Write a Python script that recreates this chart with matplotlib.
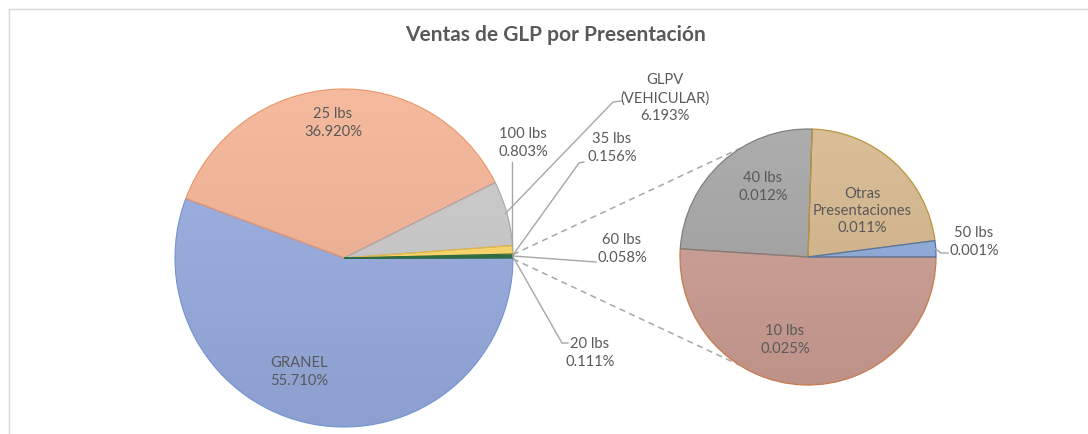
import numpy as np
import matplotlib
matplotlib.use("Agg")
import matplotlib.pyplot as plt
from matplotlib.patches import Rectangle
from matplotlib.colors import to_rgb

# ---------------- data ----------------
main_labels = ["GRANEL", "25 lbs", "GLPV\n(VEHICULAR)", "100 lbs", "35 lbs", "60 lbs", "20 lbs"]
main_values = [55.710, 36.920, 6.193, 0.803, 0.156, 0.058, 0.111]
sub_labels = ["10 lbs", "40 lbs", "Otras\nPresentaciones", "50 lbs"]
sub_values = [0.025, 0.012, 0.011, 0.001]
title = "Ventas de GLP por Presentación"

# ---------------- style ----------------
main_colors = ["#97abdf", "#f4b394", "#c9c9c9", "#ffd966", "#3f7a5c", "#2f6b45", "#3b5f8c", "#7a8fc0"]
main_edges = ["#7393d3", "#e9956c", "#a8a8a8", "#e8b83a", "#2f6b45", "#2f6b45", "#2f6b45", "#2f6b45"]
sub_colors = ["#cc9d93", "#a4a4a4", "#d5b78d", "#8eaadc"]
sub_edges = ["#c87a4e", "#7f7f7f", "#b8953c", "#4f76b0"]
TXT = "#595959"
LINE = "#a6a6a6"
FONT = ["Lato", "DejaVu Sans"]

W, H = 1088, 435
fig = plt.figure(figsize=(W / 100, H / 100), dpi=100)
ax = fig.add_axes([0, 0, 1, 1])


def Y(py):
    return H - py


c1 = (344, Y(259)); r1 = 169
c2 = (808, Y(258)); r2 = 128

other_total = sum(sub_values)
vals1 = main_values + [other_total]
w1, _ = ax.pie(vals1, colors=main_colors, startangle=0, counterclock=False,
               center=c1, radius=r1, normalize=True,
               wedgeprops=dict(linewidth=0.8))
w2, _ = ax.pie(sub_values, colors=sub_colors, startangle=0, counterclock=False,
               center=c2, radius=r2, normalize=True,
               wedgeprops=dict(linewidth=0.9))


def shade(wedges, colors, edges, c, r):
    # vertical gradient (lighter top, darker bottom) clipped to each wedge
    t = np.linspace(0, 1, 256)[:, None]
    for wdg, col, ec in zip(wedges, colors, edges):
        rgb = np.array(to_rgb(col))
        top = rgb + (1 - rgb) * 0.10
        bot = rgb * 0.93
        img = bot[None, :] * (1 - t) + top[None, :] * t
        img = img[:, None, :]
        im = ax.imshow(img, extent=(c[0] - r, c[0] + r, c[1] - r, c[1] + r),
                       origin="lower", aspect="auto", zorder=1.5, interpolation="bilinear")
        im.set_clip_path(wdg)
        wdg.set_facecolor("none")
        wdg.set_edgecolor(ec)
        wdg.set_zorder(2)


shade(w1, main_colors, main_edges, c1, r1)
shade(w2, sub_colors, sub_edges, c2, r2)

ax.set_xlim(0, W)
ax.set_ylim(0, H)
ax.set_aspect("equal")
ax.axis("off")


def edge_pt(c, r, ang, k=1.0):
    a = np.deg2rad(ang)
    return c[0] + k * r * np.cos(a), c[1] + k * r * np.sin(a)


# connector dashed lines from "other" wedge to second pie
ow = w1[-1]
p_top = edge_pt(c1, r1, ow.theta2 + 1.0)
p_bot = edge_pt(c1, r1, ow.theta1 - 0.3)
q_top = edge_pt(c2, r2, 121.5)
q_bot = edge_pt(c2, r2, -122.5)
for p, q in [(p_top, q_top), (p_bot, q_bot)]:
    ax.plot([p[0], q[0]], [p[1], q[1]], color=LINE, lw=1.1, ls=(0, (4, 3)), zorder=0)

# ---------------- labels ----------------
fs = 10.6
ls = 1.3


def pct(v):
    return f"{v:.3f}%"


inside_main = {0: (299, 372), 1: (333, 123)}
for i, (px, py) in inside_main.items():
    ax.text(px, Y(py), f"{main_labels[i]}\n{pct(main_values[i])}", ha="center", va="center",
            color=TXT, fontsize=fs, family=FONT, linespacing=ls, zorder=5)

outside = {
    2: dict(pos=(665, 98), path=[(621, 102), (613, 103)], k=0.99),
    3: dict(pos=(523, 143), path=[(512, 163)], k=1.0, vertical=True),
    4: dict(pos=(612, 148), path=[(584, 163), (579, 164)], k=1.0),
    5: dict(pos=(622, 249), path=[(596, 263)], k=1.0),
    6: dict(pos=(590, 353), path=[(568, 344), (562, 344)], k=1.0),
}
for i, d in outside.items():
    px, py = d["pos"]
    ax.text(px, Y(py), f"{main_labels[i]}\n{pct(main_values[i])}", ha="center", va="center",
            color=TXT, fontsize=fs, family=FONT, linespacing=ls, zorder=5)
    w = w1[i]
    mid = 0.5 * (w.theta1 + w.theta2)
    end = edge_pt(c1, r1, mid, d["k"])
    xs = [p[0] for p in d["path"]]
    ys = [Y(p[1]) for p in d["path"]]
    if d.get("vertical"):
        xs.append(xs[-1]); ys.append(end[1])
    else:
        xs.append(end[0]); ys.append(end[1])
    ax.plot(xs, ys, color=LINE, lw=1.0, zorder=3)

inside_sub = {0: (785, 340), 1: (763, 187), 2: (862, 211)}
for i, (px, py) in inside_sub.items():
    ax.text(px, Y(py), f"{sub_labels[i]}\n{pct(sub_values[i])}", ha="center", va="center",
            color=TXT, fontsize=fs, family=FONT, linespacing=ls, zorder=5)

ax.text(974, Y(242), f"{sub_labels[3]}\n{pct(sub_values[3])}", ha="center", va="center",
        color=TXT, fontsize=fs, family=FONT, linespacing=ls, zorder=5)
w = w2[3]
mid = 0.5 * (w.theta1 + w.theta2)
e = edge_pt(c2, r2, mid)
ax.plot([e[0], e[0] + 5, 948], [e[1], Y(254), Y(254)], color=LINE, lw=1.0)

ax.text(555, Y(35), title, ha="center", va="center", color=TXT, fontsize=15,
        fontweight="bold", family=FONT)

ax.add_patch(Rectangle((8.5, Y(600)), 1200, Y(9.5) - Y(600), fill=False,
                       edgecolor="#d9d9d9", lw=1.0, zorder=-1))

fig.savefig("out.png", dpi=100, facecolor="white")
